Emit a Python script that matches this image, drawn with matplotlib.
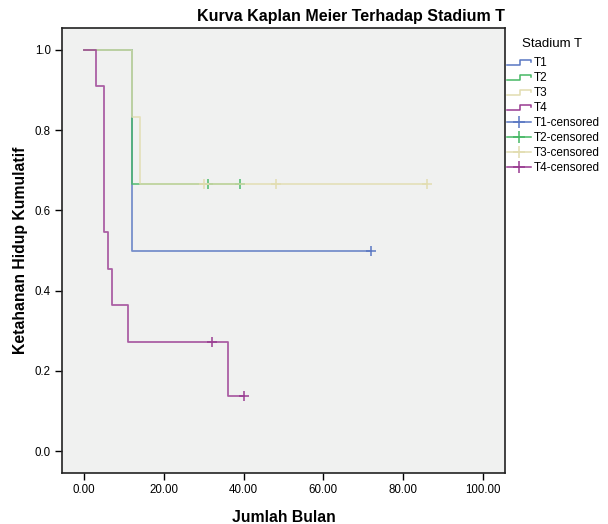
import matplotlib
matplotlib.use("Agg")
import matplotlib.pyplot as plt
from matplotlib.lines import Line2D
from matplotlib.legend_handler import HandlerBase

plt.rcParams['font.family'] = ['Liberation Sans', 'DejaVu Sans']

# ---- data ----
groups = ["T1", "T2", "T3", "T4"]
colors = ["#5876c2", "#47b865", "#e2ddb0", "#993b91"]

t1_times = [0, 12, 72]
t1_surv = [1.0, 0.5, 0.5]
t1_cens_t = [72]
t1_cens_s = [0.5]

t2_times = [0, 12, 39]
t2_surv = [1.0, 0.6667, 0.6667]
t2_cens_t = [31, 39]
t2_cens_s = [0.6667, 0.6667]

t3_times = [0, 12, 14, 86]
t3_surv = [1.0, 0.8333, 0.6667, 0.6667]
t3_cens_t = [30, 48, 86]
t3_cens_s = [0.6667, 0.6667, 0.6667]

t4_times = [0, 3, 5, 6, 7, 11, 36, 40]
t4_surv = [1.0, 0.9091, 0.5455, 0.4545, 0.3636, 0.2727, 0.1364, 0.1364]
t4_cens_t = [32, 40]
t4_cens_s = [0.2727, 0.1364]

x_ticks = [0, 20, 40, 60, 80, 100]
y_ticks = [0.0, 0.2, 0.4, 0.6, 0.8, 1.0]

series = [
    (t1_times, t1_surv, t1_cens_t, t1_cens_s),
    (t2_times, t2_surv, t2_cens_t, t2_cens_s),
    (t3_times, t3_surv, t3_cens_t, t3_cens_s),
    (t4_times, t4_surv, t4_cens_t, t4_cens_s),
]

fig = plt.figure(figsize=(6.08, 5.24), dpi=100)
ax = fig.add_axes([62/608, 1-473/524, (505-62)/608, (473-28)/524])
ax.set_facecolor("#f0f1f0")

step_handles = []
cens_handles = []
for name, col, (tt, ss, ct, cs) in zip(groups, colors, series):
    ax.plot(tt, ss, drawstyle="steps-post", color=col, lw=1.3, alpha=0.8)
    ax.plot(ct, cs, linestyle="none", marker="+", markersize=7, mew=1.2, color=col, alpha=0.9)
    step_handles.append(Line2D([], [], color=col, lw=1.1, label=name))
    cens_handles.append(Line2D([], [], color=col, lw=1.1, marker="+", markersize=8, mew=1.1,
                               label=name + "-censored"))

ax.set_xlim(-5.5, 105.5)
ax.set_ylim(-0.0546, 1.0546)
ax.set_xticks(x_ticks)
ax.set_xticklabels([f"{v:.2f}" for v in x_ticks])
ax.set_yticks(y_ticks)
ax.set_yticklabels([f"{v:.1f}" for v in y_ticks])
ax.tick_params(direction="out", length=5, width=1, labelsize=8.3, colors="black", pad=3)
for sp in ax.spines.values():
    sp.set_linewidth(1.2)
    sp.set_color("#222222")

ax.set_xlabel("Jumlah Bulan", fontsize=11.3, fontweight="bold", labelpad=10)
ax.set_ylabel("Ketahanan Hidup Kumulatif", fontsize=11.3, fontweight="bold", labelpad=5)
ax.set_title("Kurva Kaplan Meier Terhadap Stadium T", fontsize=11.5, fontweight="bold",
             loc="right", pad=5)


class StepHandler(HandlerBase):
    def create_artists(self, legend, orig_handle, xdescent, ydescent, width, height,
                       fontsize, trans):
        x0 = -xdescent
        w = width
        h = height
        xs = [x0, x0 + 0.55 * w, x0 + 0.55 * w, x0 + w, x0 + w]
        ys = [0.1 * h, 0.1 * h, 0.75 * h, 0.75 * h, 0.45 * h]
        ln = Line2D(xs, ys, color=orig_handle.get_color(), lw=1.1)
        ln.set_transform(trans)
        return [ln]


fig.text(522/608, 1-44/524, "Stadium T", fontsize=9.5, ha="left", va="center")

handles = step_handles + cens_handles
labels = [h.get_label() for h in handles]
leg = fig.legend(handles, labels, loc="upper left", bbox_to_anchor=(507/608, 1-57/524),
                 bbox_transform=fig.transFigure,
                 frameon=False, fontsize=8.5,
                 handlelength=2.0, handletextpad=0.25, labelspacing=0.25,
                 borderaxespad=0.0, borderpad=0.0,
                 handler_map={h: StepHandler() for h in step_handles})

fig.savefig("out.png", dpi=100)
